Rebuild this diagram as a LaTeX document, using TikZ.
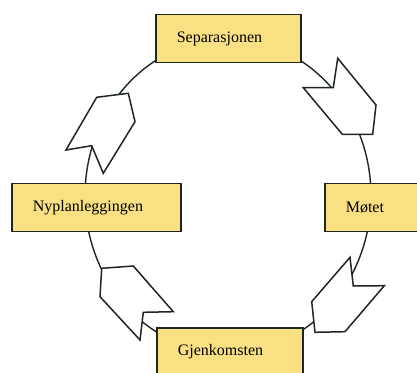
\documentclass[tikz,border=0pt]{standalone}
\usepackage{fontspec}
\setmainfont{Liberation Serif}
\usepackage{tikz}
\usetikzlibrary{positioning}

\definecolor{stagefill}{RGB}{249,224,130}
\definecolor{inkline}{RGB}{30,38,32}

\begin{document}
\begin{tikzpicture}[x=1pt,y=1pt,
	stage/.style={draw=inkline, fill=stagefill, line width=1.6pt, anchor=west, align=left,
		inner xsep=21pt, inner ysep=0pt, minimum height=48pt, font=\fontsize{16}{19}\selectfont},
	blockarrow/.style={draw=inkline, fill=white, line width=1.5pt, line join=miter}]
				\useasboundingbox (0,0) rectangle (417,372);
				% the cycle
				\draw[inkline, line width=1.4pt] (228,176) ellipse [x radius=143, y radius=157];
				% arrows along the cycle
				\draw[blockarrow] (337.7,313.7) -- (376,267) -- (372.7,237.7) -- (342.3,237.7) -- (303.3,284.3) -- (333.3,284.3) -- cycle;
				\draw[blockarrow] (350,114.7) -- (353.3,86) -- (384.3,86.3) -- (345,40.3) -- (315,39.7) -- (311.7,70.3) -- cycle;
				\draw[blockarrow] (101.7,103.7) -- (133.3,106) -- (173.3,60.3) -- (143.3,59.7) -- (140,32) -- (100,75.3) -- cycle;
				\draw[blockarrow] (96.7,274.7) -- (128.3,278.7) -- (135,250.3) -- (103.3,198.7) -- (91.7,226.3) -- (66,222) -- cycle;
				% the four stages
				\node[stage, text width=103pt] (sep) at (155,333.5) {Separasjonen};
				\node[stage, text width=64pt] (mote) at (324,164.5) {Møtet};
				\node[stage, text width=104pt] (gjen) at (156,20) {Gjenkomsten};
				\node[stage, text width=127pt] (nyp) at (11,164.5) {Nyplanleggingen};
				\end{tikzpicture}
\end{document}
